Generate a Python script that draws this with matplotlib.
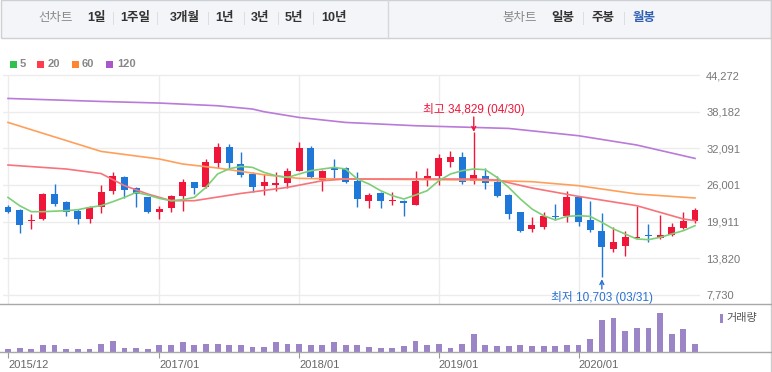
import numpy as np
import matplotlib.pyplot as plt
from matplotlib.lines import Line2D
from matplotlib.patches import Rectangle

plt.rcParams['font.family'] = ['Liberation Sans', 'Noto Sans CJK KR']

# 월봉 데이터 2015/12 ~ 2020/11 (시가, 고가, 저가, 종가)
opens = [22283, 21901, 20025, 20357, 24507, 23113, 21735, 20357, 22399, 25055,
         27379, 25437, 23943, 21453, 22183, 24109, 26433, 25603, 29653, 32359,
         29487, 27827, 25769, 26001, 26333, 28375, 32143, 26881, 28823, 28757,
         26715, 23395, 24607, 23395, 23279, 22731, 26881, 27545, 29753, 30699,
         26715, 27545, 26549, 24341, 21569, 18697, 19063, 20905, 20905, 23943,
         20241, 18415, 15377, 15809, 17137, 17701, 17203, 17751, 18863, 19959]
highs = [22681, 21950, 21187, 24607, 26167, 23395, 22017, 22565, 26001, 28093,
         27545, 25603, 24059, 22565, 24391, 26997, 26549, 30317, 32907, 32807,
         31413, 28093, 27827, 28093, 28823, 33073, 32409, 28491, 30317, 28923,
         28093, 24607, 24889, 24773, 23561, 28375, 28823, 31147, 31695, 31413,
         34829, 28757, 27545, 24507, 21569, 20623, 21569, 22847, 25055, 24109,
         23395, 21353, 18963, 18415, 22565, 19527, 21021, 19693, 21569, 22117]
lows = [21353, 18033, 18697, 20241, 22449, 20905, 19527, 19627, 21353, 24507,
        23777, 22349, 21353, 20357, 21569, 21735, 24507, 25503, 28757, 28657,
        27263, 24773, 24341, 24939, 25503, 28375, 27163, 25055, 26997, 26333,
        22283, 22117, 22117, 22681, 20905, 22731, 25885, 26001, 28923, 26167,
        26167, 25337, 23943, 20357, 18133, 18249, 18697, 20241, 19793, 19129,
        18249, 10703, 14813, 14265, 17137, 16473, 17037, 17585, 18697, 19693]
closes = [21569, 19411, 20241, 24507, 22781, 21569, 20357, 22399, 24773, 27545,
          25171, 24507, 21453, 22017, 24225, 26433, 25503, 29753, 32359, 29653,
          27661, 25603, 26433, 26333, 28259, 32143, 27263, 28375, 28491, 26433,
          23677, 24391, 23395, 23561, 22947, 26715, 27545, 30483, 30699, 26549,
          27711, 26333, 24109, 21187, 18415, 19411, 20905, 20623, 23943, 19793,
          18531, 15643, 16589, 17303, 17419, 17469, 17701, 18963, 20075, 21851]
volume = [3.3, 4.3, 3.3, 7.3, 7.3, 3.3, 3.3, 3.3, 8.3, 10.7,
          4.3, 4.3, 3.3, 6.7, 6.7, 9.7, 6.7, 8.3, 8.3, 7.3,
          7.3, 5.0, 5.0, 9.7, 8.3, 8.3, 6.7, 6.7, 9.7, 6.7,
          7.3, 5.0, 4.3, 4.3, 5.7, 11.0, 6.7, 7.7, 4.3, 7.7,
          17.7, 6.7, 5.7, 5.7, 6.7, 5.7, 5.7, 5.7, 6.7, 6.7,
          13.3, 31.7, 34.0, 21.0, 24.3, 24.3, 39.3, 17.7, 23.3, 7.7]

# 이동평균선
ma5 = [23943, 22565, 21569, 21569, 21652, 21735, 21901, 22283, 22565, 23229,
       23943, 24773, 24341, 23777, 23395, 23561, 23943, 25603, 27827, 28700,
       29089, 28923, 28093, 27545, 27263, 27827, 28375, 28657, 28923, 28657,
       26997, 26167, 25055, 24225, 23677, 24341, 25055, 26715, 27827, 28375,
       28657, 28541, 27263, 25603, 23677, 22017, 20905, 20191, 20789, 20905,
       20789, 19793, 18697, 17867, 17037, 16921, 17303, 17867, 18415, 19245]
ma20_idx = [0, 5, 8, 10, 12, 14, 16, 20, 24, 27, 29, 40, 42, 45, 49, 54, 58, 59]
ma20 = [29321, 28657, 27900, 25900, 24507, 23395, 23395, 24600, 25603, 26715,
        26997, 26997, 26831, 25503, 24109, 22565, 20357, 20075]
ma60_idx = [0, 8, 13, 15, 18, 22, 25, 29, 40, 45, 49, 54, 59]
ma60 = [36393, 31579, 30317, 29487, 28823, 27700, 27097, 26997, 26831, 26549,
        25885, 24507, 23843]
ma120_idx = [0, 8, 13, 18, 21, 22, 25, 29, 35, 43, 49, 54, 59]
ma120 = [40377, 39879, 39613, 39165, 38617, 38169, 37223, 36393, 35845, 35397,
         34185, 32641, 30417]

y_ticks = [7730, 13820, 19911, 26001, 32091, 38182, 44272]
x_tick_idx = [0, 13, 25, 37, 49]
x_tick_labels = ['2015/12', '2017/01', '2018/01', '2019/01', '2020/01']

UP = '#f0163a'
DOWN = '#1f78d8'

W, H = 772, 372
fig = plt.figure(figsize=(W / 100, H / 100), dpi=100)


def px_rect(x0, y0, x1, y1):
    return [x0 / W, 1 - y1 / H, (x1 - x0) / W, (y1 - y0) / H]


def fx(x):
    return x / W


def fy(y):
    return 1 - y / H


# 상단 메뉴 바
fig.add_artist(Rectangle((fx(0.5), fy(38)), fx(770), 37.5 / H, transform=fig.transFigure,
                         facecolor='#f4f5f8', edgecolor='#cdd0d5', lw=1))
fig.add_artist(Line2D([fx(388), fx(388)], [fy(0), fy(38)], color='#d5d7db', lw=1))
menu = [('선차트', 56, '#888888', 'normal'), ('1일', 96, '#333333', 'bold'),
        ('1주일', 135, '#333333', 'bold'), ('3개월', 185, '#333333', 'bold'),
        ('1년', 225, '#333333', 'bold'), ('3년', 260, '#333333', 'bold'),
        ('5년', 294, '#333333', 'bold'), ('10년', 334, '#333333', 'bold'),
        ('봉차트', 520, '#888888', 'normal'), ('일봉', 563, '#333333', 'bold'),
        ('주봉', 603, '#333333', 'bold'), ('월봉', 644, '#2f5fb3', 'bold')]
for s, x, c, w in menu:
    fig.text(fx(x), fy(18), s, ha='center', va='center', fontsize=9, color=c, fontweight=w)
for x in [113, 157, 208, 244, 278, 313, 583, 624]:
    fig.add_artist(Line2D([fx(x), fx(x)], [fy(12), fy(24)], color='#dcdee2', lw=0.7))

# 오른쪽 테두리
fig.add_artist(Line2D([fx(770.5), fx(770.5)], [0, 1], color='#cccccc', lw=1))

# 이동평균 범례
legend_items = [('5', '#2fc24f', 10, 20), ('20', '#ff3b4e', 37, 48),
                ('60', '#ff8533', 72, 82), ('120', '#a957c9', 106, 117)]
for lab, c, xs, xt in legend_items:
    fig.add_artist(Rectangle((fx(xs), fy(67.5)), 7 / W, 7 / H, transform=fig.transFigure,
                             facecolor=c, edgecolor='none'))
    fig.text(fx(xt), fy(64), lab, ha='left', va='center', fontsize=8,
             color='#888888', fontweight='bold')

# 가격 차트
x = np.arange(len(closes))
o = np.array(opens)
c = np.array(closes)
hi = np.array(highs)
lo = np.array(lows)
up = c >= o
colors = np.where(up, UP, DOWN)

px_per = 166.1
ax = fig.add_axes(px_rect(3, 70, 700, 304))
ax.set_xlim(-5 / 11.644, 59 + 5 / 11.644)
ax.set_ylim(7730 - 9 * px_per, 44272 + 5 * px_per)
for s in ax.spines.values():
    s.set_visible(False)
ax.set_yticks(y_ticks)
ax.set_yticklabels([f'{v:,}' for v in y_ticks])
ax.yaxis.tick_right()
ax.tick_params(axis='y', length=0, pad=4.5, labelsize=8, labelcolor='#777777')
ax.set_xticks([])
ax.grid(axis='y', color='#ececec', lw=1)
ax.set_axisbelow(True)
ax.vlines(x_tick_idx, 7730 - 9 * px_per, 44272, color='#ececec', lw=1, zorder=0)

ax.vlines(x, lo, hi, colors=colors, lw=1, zorder=2)
body = np.maximum(np.abs(c - o), 150)
ax.bar(x, body, bottom=np.minimum(o, c), width=0.6, color=colors, zorder=3)

ax.plot(ma120_idx, ma120, color='#b97ad8', lw=1.2, zorder=4)
ax.plot(ma60_idx, ma60, color='#ffa05a', lw=1.2, zorder=4)
ax.plot(ma20_idx, ma20, color='#f8737a', lw=1.2, zorder=4)
ax.plot(x, ma5, color='#7dcf78', lw=1.2, zorder=4)

# 최고/최저 표시
i_max = int(np.argmax(hi))
i_min = int(np.argmin(lo))
ax.annotate('', xy=(i_max, hi[i_max]), xytext=(i_max, 44272 - 42 * px_per),
            arrowprops=dict(arrowstyle='->', color=UP, lw=1, mutation_scale=7,
                            shrinkA=0, shrinkB=0), zorder=5)
ax.text(i_max, 44272 - 35 * px_per, f'최고 {hi[i_max]:,} (04/30)', ha='center', va='center',
        fontsize=8.5, color=UP)
ax.annotate('', xy=(i_min, lo[i_min] - 2 * px_per), xytext=(i_min, 44272 - 214 * px_per),
            arrowprops=dict(arrowstyle='->', color='#2a70d2', lw=1, mutation_scale=7,
                            shrinkA=0, shrinkB=0), zorder=5)
ax.text(i_min, 44272 - 222 * px_per, f'최저 {lo[i_min]:,} (03/31)', ha='center', va='center',
        fontsize=8.5, color='#2a70d2')

# 거래량
axv = fig.add_axes(px_rect(3, 304, 700, 352))
axv.set_xlim(ax.get_xlim())
axv.set_ylim(0, 48)
for s in axv.spines.values():
    s.set_visible(False)
axv.bar(x, volume, width=0.5, color='#9c85c6')
axv.set_yticks([])
axv.set_xticks(x_tick_idx)
axv.set_xticklabels(x_tick_labels, ha='left')
axv.tick_params(axis='x', length=4, color='#999999', labelcolor='#666666',
                labelsize=8, pad=2)
fig.add_artist(Rectangle((fx(720), fy(323)), 3 / W, 9 / H, transform=fig.transFigure,
                         facecolor='#9c85c6', edgecolor='none'))
fig.text(fx(726), fy(318.5), '거래량', ha='left', va='center', fontsize=8, color='#555555')

fig.add_artist(Line2D([0, fx(771)], [fy(304.3), fy(304.3)], color='#a8a8a8', lw=1))
fig.add_artist(Line2D([0, fx(771)], [fy(352), fy(352)], color='#a8a8a8', lw=1))

fig.savefig('out.png', dpi=100)
